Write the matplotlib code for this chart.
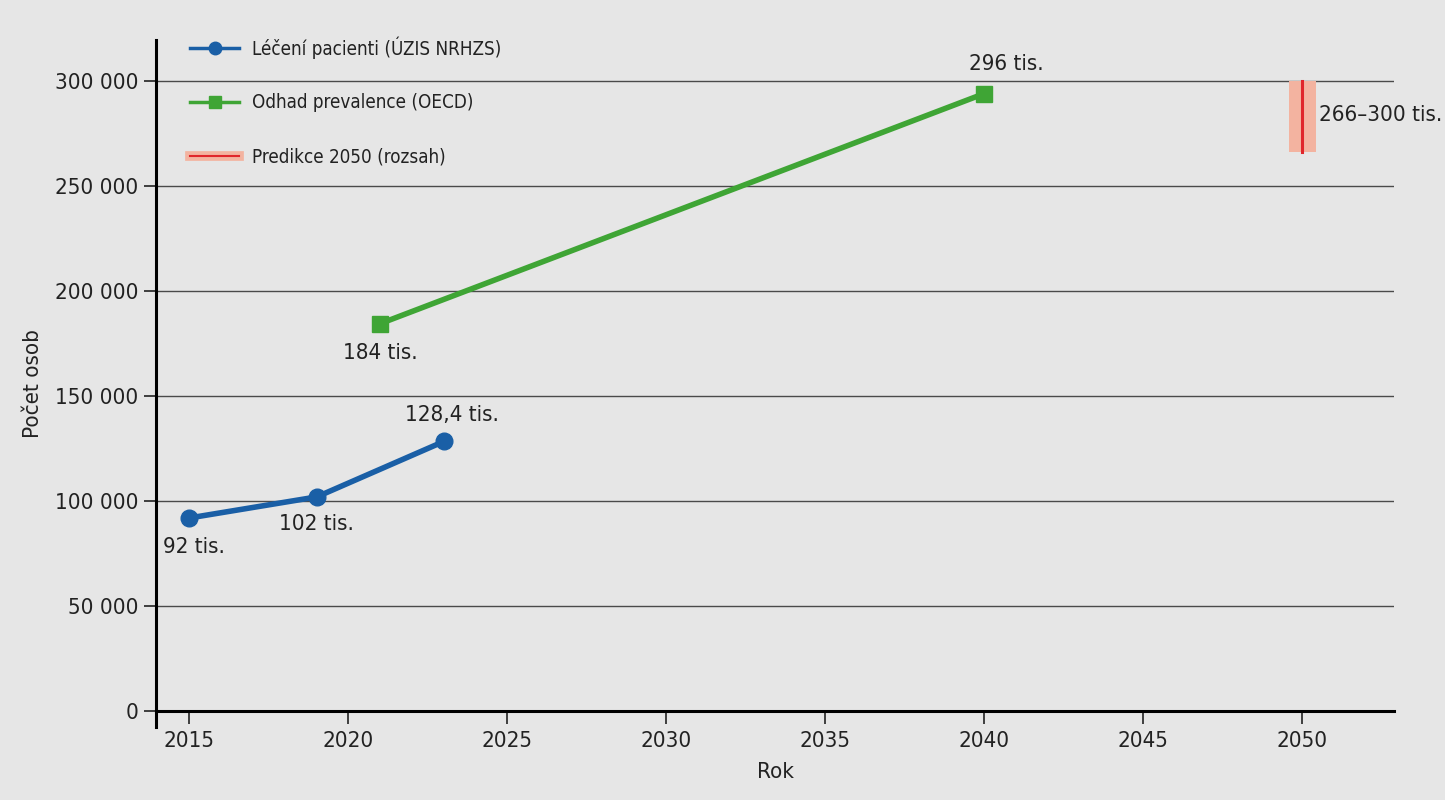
import numpy as np
import matplotlib.pyplot as plt
from matplotlib.lines import Line2D
from matplotlib.ticker import FuncFormatter

plt.rcParams['font.family'] = ['DejaVu Sans']
plt.rcParams['font.stretch'] = 'condensed'

# treated patients (UZIS NRHZS)
treated_years = [2015, 2019, 2023]
treated_vals = [92000, 102000, 128400]
treated_labels = ['92 tis.', '102 tis.', '128,4 tis.']

# prevalence estimate (OECD)
oecd_years = [2021, 2040]
oecd_vals = [184500, 294000]
oecd_labels = ['184 tis.', '296 tis.']

# 2050 prediction range
pred_year = 2050
pred_low, pred_high = 266000, 300000
pred_label = '266–300 tis.'

bg = '#e6e6e6'
blue = '#1a5fa6'
green = '#3fa535'
red = '#e0262b'
salmon = '#f3b3a0'
txt = '#222222'

fig = plt.figure(figsize=(14.45, 8), dpi=100, facecolor=bg)
ax = fig.add_axes([0.108, 0.091, 0.857, 0.859], facecolor=bg)

ax.set_xlim(2013.95, 2052.9)
ax.set_ylim(-7600, 319500)

ax.set_yticks(np.arange(0, 300001, 50000))
ax.set_xticks(np.arange(2015, 2051, 5))
ax.yaxis.set_major_formatter(FuncFormatter(lambda v, p: f'{int(v):,}'.replace(',', ' ')))
for y in np.arange(50000, 300001, 50000):
    ax.axhline(y, color='#4a4a4a', lw=1, zorder=1)

for s in ['top', 'right']:
    ax.spines[s].set_visible(False)
ax.spines['bottom'].set_position(('data', 0))
ax.spines['bottom'].set_linewidth(2.2)
ax.spines['left'].set_linewidth(2.2)
ax.tick_params(axis='both', labelsize=16, width=1.2, length=9, color=txt, labelcolor=txt)
ax.tick_params(axis='x', pad=5)

ax.set_xlabel('Rok', fontsize=16, labelpad=8, color=txt)
ax.set_ylabel('Počet osob', fontsize=16, labelpad=9, color=txt)

# prediction band
ax.fill_between([pred_year - 0.42, pred_year + 0.42], pred_low, pred_high,
                color=salmon, lw=0, zorder=2)
ax.plot([pred_year, pred_year], [pred_low, pred_high], color=red, lw=2.2, zorder=3)
ax.text(pred_year + 0.52, (pred_low + pred_high) / 2 + 1000, pred_label, fontsize=16,
        va='center', ha='left', color=txt)

ax.plot(treated_years, treated_vals, color=blue, lw=4, marker='o', ms=12, zorder=4)
ax.plot(oecd_years, oecd_vals, color=green, lw=4, marker='s', ms=12, zorder=4)

offsets = [(0.15, -14000), (0.0, -13000), (0.25, 12500)]
for x, y, t, (dx, dy) in zip(treated_years, treated_vals, treated_labels, offsets):
    ax.text(x + dx, y + dy, t, fontsize=16, ha='center', va='center', color=txt)
ax.text(oecd_years[0], oecd_vals[0] - 14000, oecd_labels[0], fontsize=16,
        ha='center', va='center', color=txt)
ax.text(oecd_years[1] + 0.7, oecd_vals[1] + 14000, oecd_labels[1], fontsize=16,
        ha='center', va='center', color=txt)

h1 = Line2D([], [], color=blue, lw=2.5, marker='o', ms=9)
h2 = Line2D([], [], color=green, lw=2.5, marker='s', ms=8)
h3a = Line2D([], [], color=salmon, lw=7)
h3b = Line2D([], [], color=red, lw=1.5)
leg = ax.legend([h1, h2, (h3a, h3b)],
                ['Léčení pacienti (ÚZIS NRHZS)', 'Odhad prevalence (OECD)', 'Predikce 2050 (rozsah)'],
                loc='upper left', bbox_to_anchor=(0.014, 1.03), frameon=False, fontsize=13.5,
                handlelength=2.6, labelspacing=1.85, handletextpad=0.7)
for t in leg.get_texts():
    t.set_color(txt)

fig.savefig('out.png', dpi=100, facecolor=bg)
